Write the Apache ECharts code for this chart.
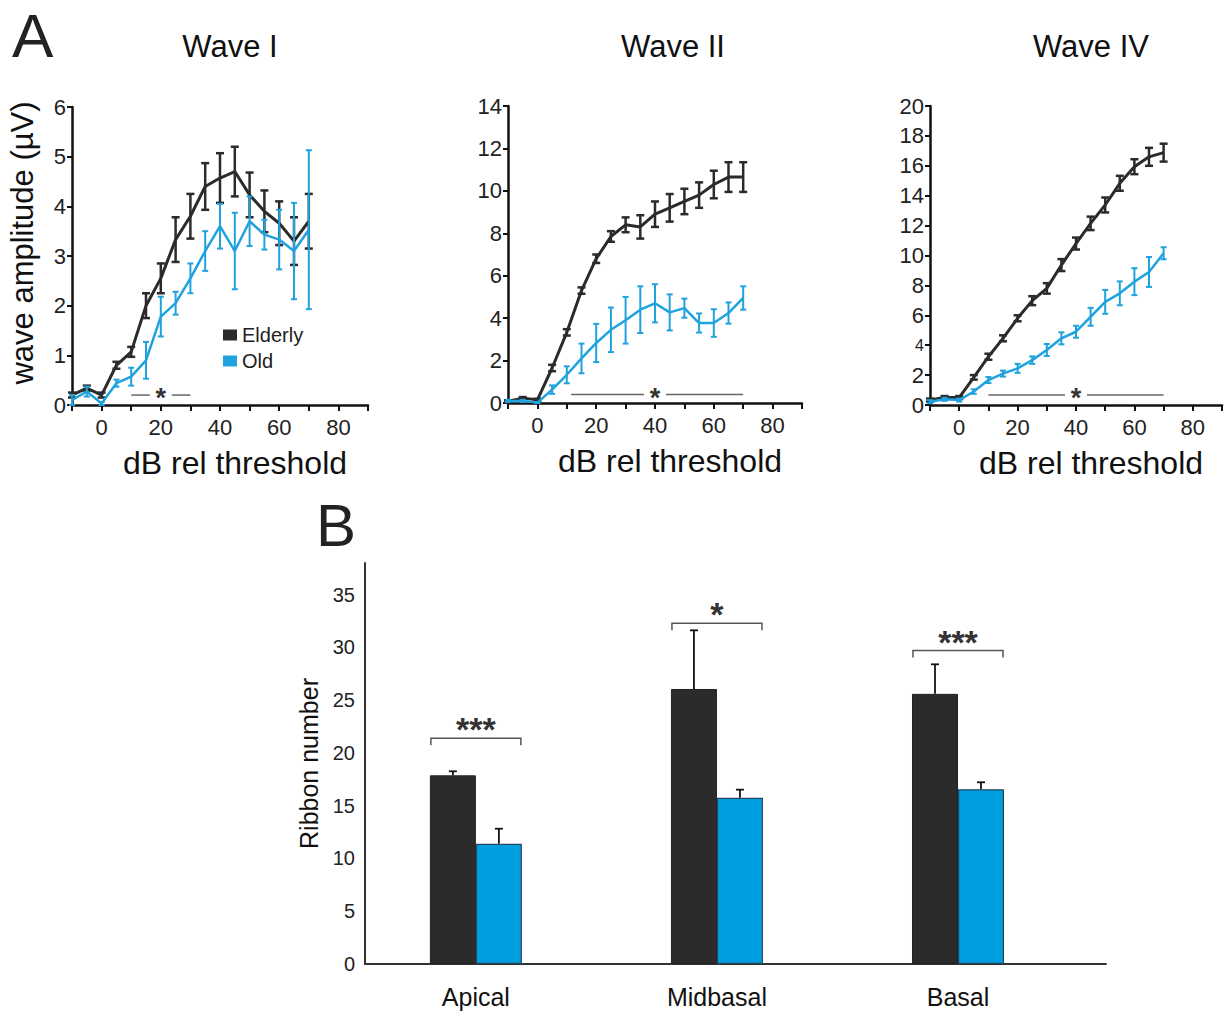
<!DOCTYPE html>
<html>
<head>
<meta charset="utf-8">
<script src="https://cdn.jsdelivr.net/npm/echarts@6/dist/echarts.min.js"></script>
<style>
  html, body { margin: 0; padding: 0; background: #fff; }
  #chart { width: 1224px; height: 1012px; }
</style>
</head>
<body>
<div id="chart"></div>
<script>
// dB rel threshold, shared by all three wave panels
var dbLevels = [-10, -5, 0, 5, 10, 15, 20, 25, 30, 35, 40, 45, 50, 55, 60, 65, 70];

// Wave I (µV)
var w1Elderly    = [0.2, 0.34, 0.2, 0.8, 1.07, 2.0, 2.55, 3.33, 3.8, 4.4, 4.57, 4.7, 4.23, 3.9, 3.66, 3.3, 3.7];
var w1ElderlyErr = [0.05, 0.05, 0.05, 0.07, 0.1, 0.25, 0.3, 0.45, 0.45, 0.47, 0.5, 0.5, 0.45, 0.42, 0.44, 0.48, 0.55];
var w1Old        = [0.1, 0.27, 0.03, 0.44, 0.57, 0.9, 1.78, 2.05, 2.55, 3.1, 3.6, 3.1, 3.7, 3.43, 3.33, 3.1, 3.53];
var w1OldErr     = [0.1, 0.1, 0.03, 0.07, 0.18, 0.37, 0.4, 0.23, 0.3, 0.4, 0.45, 0.77, 0.5, 0.3, 0.6, 0.97, 1.6];

// Wave II
var w2Elderly    = [0.08, 0.23, 0.15, 1.65, 3.33, 5.3, 6.8, 7.85, 8.4, 8.3, 8.9, 9.2, 9.5, 9.8, 10.3, 10.65, 10.65];
var w2ElderlyErr = [0.05, 0.05, 0.05, 0.15, 0.15, 0.15, 0.2, 0.25, 0.35, 0.55, 0.6, 0.65, 0.6, 0.6, 0.65, 0.7, 0.7];
var w2Old        = [0.1, 0.1, 0.02, 0.63, 1.33, 2.1, 2.83, 3.45, 3.9, 4.4, 4.7, 4.27, 4.47, 3.77, 3.77, 4.24, 4.95];
var w2OldErr     = [0.05, 0.05, 0.02, 0.2, 0.4, 0.7, 0.9, 1.05, 1.1, 1.1, 0.9, 0.85, 0.45, 0.45, 0.65, 0.5, 0.55];

// Wave IV
var w4Elderly    = [0.33, 0.5, 0.5, 1.85, 3.23, 4.46, 5.8, 6.98, 7.8, 9.36, 10.8, 12.15, 13.38, 14.83, 15.94, 16.6, 16.88];
var w4ElderlyErr = [0.1, 0.1, 0.1, 0.15, 0.2, 0.2, 0.2, 0.3, 0.35, 0.4, 0.4, 0.45, 0.5, 0.5, 0.5, 0.6, 0.6];
var w4Old        = [0.22, 0.38, 0.33, 0.9, 1.67, 2.1, 2.45, 3.0, 3.68, 4.46, 4.9, 5.9, 6.9, 7.47, 8.25, 8.9, 10.15];
var w4OldErr     = [0.1, 0.1, 0.1, 0.15, 0.2, 0.2, 0.3, 0.25, 0.4, 0.4, 0.4, 0.6, 0.8, 0.8, 0.9, 1.0, 0.4];

// significance bars: [from dB, to dB, height, star at dB]
var w1Sig = [10, 30, 0.2, 20];
var w2Sig = [11.5, 70, 0.4, 40];
var w4Sig = [10, 70, 0.67, 40];

// y axis ranges of the wave panels
var w1YMax = 6, w1YStep = 1;
var w2YMax = 14, w2YStep = 2;
var w4YMax = 20, w4YStep = 2;

// B: ribbon number
var regions        = ['Apical', 'Midbasal', 'Basal'];
var ribbonElderly  = [17.88, 26.06, 25.6];
var ribbonElderlyErr = [0.38, 5.56, 2.8];
var ribbonOld      = [11.4, 15.76, 16.56];
var ribbonOldErr   = [1.42, 0.76, 0.66];
var bracketHeight  = [21.4, 32.3, 29.7];
var bracketMarks   = ['***', '*', '***'];

var FONT = 'Liberation Sans, Arial, sans-serif';
var BLACK = '#2b2b2b';
var BLUE = '#1fa2dd';
var BAR_BLUE = '#009fe0';
var BAR_W = 46;

var chart = echarts.init(document.getElementById('chart'), null, { renderer: 'svg' });

function pairs(xs, ys) {
	return xs.map(function (x, i) { return [x, ys[i]]; });
}
function triples(xs, ys, es) {
	return xs.map(function (x, i) { return [x, ys[i], es[i]]; });
}

// vertical error bar with caps
function errorBarSeries(name, idx, data, color, width, cap) {
	return {
		name: name,
		type: 'custom',
		xAxisIndex: idx,
		yAxisIndex: idx,
		silent: true,
		z: 3,
		data: data,
		renderItem: function (params, api) {
			var x = api.value(0), y = api.value(1), e = api.value(2);
			var hi = api.coord([x, y + e]);
			var lo = api.coord([x, y - e]);
			var st = { stroke: color, lineWidth: width };
			return {
				type: 'group',
				children: [
					{ type: 'line', shape: { x1: hi[0], y1: hi[1], x2: lo[0], y2: lo[1] }, style: st },
					{ type: 'line', shape: { x1: hi[0] - cap, y1: hi[1], x2: hi[0] + cap, y2: hi[1] }, style: st },
					{ type: 'line', shape: { x1: lo[0] - cap, y1: lo[1], x2: lo[0] + cap, y2: lo[1] }, style: st }
				]
			};
		}
	};
}

// "——*——" significance line
function sigSeries(idx, sig) {
	return {
		type: 'custom',
		xAxisIndex: idx,
		yAxisIndex: idx,
		silent: true,
		z: 2,
		data: [sig],
		renderItem: function (params, api) {
			var a = api.coord([api.value(0), api.value(2)]);
			var b = api.coord([api.value(1), api.value(2)]);
			var s = api.coord([api.value(3), api.value(2)]);
			var st = { stroke: '#666', lineWidth: 1.5 };
			return {
				type: 'group',
				children: [
					{ type: 'line', shape: { x1: a[0], y1: a[1], x2: s[0] - 11, y2: s[1] }, style: st },
					{ type: 'line', shape: { x1: s[0] + 11, y1: s[1], x2: b[0], y2: b[1] }, style: st },
					{ type: 'text', x: s[0], y: s[1] + 3, style: { text: '*', fill: '#333', font: 'bold 27px ' + FONT, align: 'center', verticalAlign: 'middle' } }
				]
			};
		}
	};
}

function waveSeries(idx, elderly, elderlyErr, old, oldErr, sig) {
	return [
		sigSeries(idx, sig),
		{ name: 'Elderly', type: 'line', xAxisIndex: idx, yAxisIndex: idx, data: pairs(dbLevels, elderly),
		  symbol: 'none', color: BLACK, lineStyle: { color: BLACK, width: 3 }, z: 2 },
		errorBarSeries('Elderly', idx, triples(dbLevels, elderly, elderlyErr), BLACK, 2.5, 4),
		{ name: 'Old', type: 'line', xAxisIndex: idx, yAxisIndex: idx, data: pairs(dbLevels, old),
		  symbol: 'none', color: BLUE, lineStyle: { color: BLUE, width: 2.5 }, z: 4 },
		errorBarSeries('Old', idx, triples(dbLevels, old, oldErr), BLUE, 2, 3)
	];
}

function waveXAxis(idx) {
	return {
		type: 'value', gridIndex: idx, min: -10, max: 90, interval: 10,
		name: 'dB rel threshold', nameLocation: 'middle', nameGap: 42,
		nameTextStyle: { fontSize: 32, color: '#111', fontFamily: FONT, padding: [0, 0, 0, 30] },
		axisLine: { show: true, onZero: false, lineStyle: { color: '#111', width: 2.5 } },
		axisTick: { show: true, length: 6, lineStyle: { color: '#111', width: 2 } },
		axisLabel: {
			fontSize: 22, color: '#222', fontFamily: FONT, margin: 11,
			formatter: function (v) { return (v >= 0 && v <= 80 && v % 20 === 0) ? String(v) : ''; }
		},
		splitLine: { show: false }
	};
}

function waveYAxis(idx, max, step, extra) {
	var ax = {
		type: 'value', gridIndex: idx, min: 0, max: max, interval: step,
		axisLine: { show: true, onZero: false, lineStyle: { color: '#111', width: 2.5 } },
		axisTick: { show: true, length: 5, lineStyle: { color: '#111', width: 2 } },
		axisLabel: { fontSize: 22, color: '#222', fontFamily: FONT, margin: 6 },
		splitLine: { show: false }
	};
	return Object.assign(ax, extra || {});
}

var series = []
	.concat(waveSeries(0, w1Elderly, w1ElderlyErr, w1Old, w1OldErr, w1Sig))
	.concat(waveSeries(1, w2Elderly, w2ElderlyErr, w2Old, w2OldErr, w2Sig))
	.concat(waveSeries(2, w4Elderly, w4ElderlyErr, w4Old, w4OldErr, w4Sig));

// panel B bars, placed on a value axis at positions 1..3
var regionPos = regions.map(function (r, i) { return i + 1; });

series.push({
	name: 'ElderlyBar', type: 'bar', xAxisIndex: 3, yAxisIndex: 3,
	data: pairs(regionPos, ribbonElderly), barWidth: BAR_W, barGap: '0%',
	itemStyle: { color: BLACK, borderColor: '#222', borderWidth: 1 }, z: 2
});
series.push({
	name: 'OldBar', type: 'bar', xAxisIndex: 3, yAxisIndex: 3,
	data: pairs(regionPos, ribbonOld), barWidth: BAR_W, barGap: '0%',
	itemStyle: { color: BAR_BLUE, borderColor: '#24485c', borderWidth: 1.2 }, z: 2
});

// upper half error bars on the bars, offset half a bar width from the region centre
function barErrSeries(vals, errs, side) {
	return {
		type: 'custom', xAxisIndex: 3, yAxisIndex: 3, silent: true, z: 3,
		data: triples(regionPos, vals, errs),
		renderItem: function (params, api) {
			var x = api.value(0), y = api.value(1), e = api.value(2);
			var base = api.coord([x, y]);
			var top = api.coord([x, y + e]);
			var cx = base[0] + side * BAR_W / 2;
			var st = { stroke: '#111', lineWidth: 1.8 };
			return {
				type: 'group',
				children: [
					{ type: 'line', shape: { x1: cx, y1: base[1], x2: cx, y2: top[1] }, style: st },
					{ type: 'line', shape: { x1: cx - 4, y1: top[1], x2: cx + 4, y2: top[1] }, style: st }
				]
			};
		}
	};
}
series.push(barErrSeries(ribbonElderly, ribbonElderlyErr, -1));
series.push(barErrSeries(ribbonOld, ribbonOldErr, 1));

// significance brackets
series.push({
	type: 'custom', xAxisIndex: 3, yAxisIndex: 3, silent: true, z: 3,
	data: pairs(regionPos, bracketHeight),
	renderItem: function (params, api) {
		var p = api.coord([api.value(0), api.value(1)]);
		var l = p[0] - BAR_W + 1, r = p[0] + BAR_W - 1;
		var st = { stroke: '#555', lineWidth: 1.5, fill: null };
		return {
			type: 'group',
			children: [
				{ type: 'polyline', shape: { points: [[l, p[1] + 7], [l, p[1]], [r, p[1]], [r, p[1] + 7]] }, style: st },
				{ type: 'text', x: p[0], y: p[1] - 9, style: { text: bracketMarks[params.dataIndex], fill: '#333',
					font: 'bold 34px ' + FONT, align: 'center', verticalAlign: 'middle' } }
			]
		};
	}
});

var option = {
	animation: false,
	backgroundColor: '#fff',
	textStyle: { fontFamily: FONT },
	legend: {
		data: ['Elderly', 'Old'],
		left: 218, top: 320, orient: 'vertical',
		icon: 'rect', itemWidth: 14, itemHeight: 11, itemGap: 6,
		textStyle: { fontSize: 20, color: '#222', fontFamily: FONT },
		selectedMode: false
	},
	graphic: [
		{ type: 'text', x: 12, y: 35, style: { text: 'A', font: '62px ' + FONT, fill: '#222', verticalAlign: 'middle' } },
		{ type: 'text', x: 316, y: 525, style: { text: 'B', font: '60px ' + FONT, fill: '#222', verticalAlign: 'middle' } },
		{ type: 'text', x: 230, y: 46, style: { text: 'Wave I', font: '31px ' + FONT, fill: '#111', align: 'center', verticalAlign: 'middle' } },
		{ type: 'text', x: 673, y: 46, style: { text: 'Wave II', font: '31px ' + FONT, fill: '#111', align: 'center', verticalAlign: 'middle' } },
		{ type: 'text', x: 1091, y: 46, style: { text: 'Wave IV', font: '31px ' + FONT, fill: '#111', align: 'center', verticalAlign: 'middle' } }
	],
	grid: [
		{ left: 72, top: 107, width: 296, height: 298, containLabel: false, outerBoundsMode: 'none' },
		{ left: 508, top: 106, width: 294, height: 297, containLabel: false, outerBoundsMode: 'none' },
		{ left: 930, top: 106, width: 292, height: 299, containLabel: false, outerBoundsMode: 'none' },
		{ left: 365, top: 563, width: 741, height: 401, containLabel: false, outerBoundsMode: 'none' }
	],
	xAxis: [
		waveXAxis(0), waveXAxis(1), waveXAxis(2),
		{
			type: 'value', gridIndex: 3, min: 0.54, max: 3.614,
			axisLine: { show: true, onZero: false, lineStyle: { color: '#333', width: 2 } },
			axisTick: { show: false },
			axisLabel: {
				customValues: regionPos, fontSize: 25, color: '#111', fontFamily: FONT, margin: 20,
				formatter: function (v) { return regions[Math.round(v) - 1] || ''; }
			},
			splitLine: { show: false }
		}
	],
	yAxis: [
		waveYAxis(0, w1YMax, w1YStep, {
			name: 'wave amplitude (µV)', nameLocation: 'middle', nameGap: 34,
			nameTextStyle: { fontSize: 31, color: '#111', fontFamily: FONT, padding: [0, 0, 0, 26] }
		}),
		waveYAxis(1, w2YMax, w2YStep),
		waveYAxis(2, w4YMax, w4YStep, {
			axisLabel: {
				fontSize: 22, color: '#222', fontFamily: FONT, margin: 6,
				formatter: function (v) { return v === 4 ? '{s|4}' : String(v); },
				rich: { s: { fontSize: 16, color: '#222', fontFamily: FONT } }
			}
		}),
		{
			type: 'value', gridIndex: 3, min: 0, max: 38, interval: 5,
			name: 'Ribbon number', nameLocation: 'middle', nameGap: 44,
			nameTextStyle: { fontSize: 25, color: '#111', fontFamily: FONT },
			axisLine: { show: true, onZero: false, lineStyle: { color: '#333', width: 2 } },
			axisTick: { show: false },
			axisLabel: { fontSize: 20, color: '#222', fontFamily: FONT, margin: 10, showMaxLabel: false },
			splitLine: { show: false }
		}
	],
	series: series
};

chart.setOption(option);
</script>
</body>
</html>
